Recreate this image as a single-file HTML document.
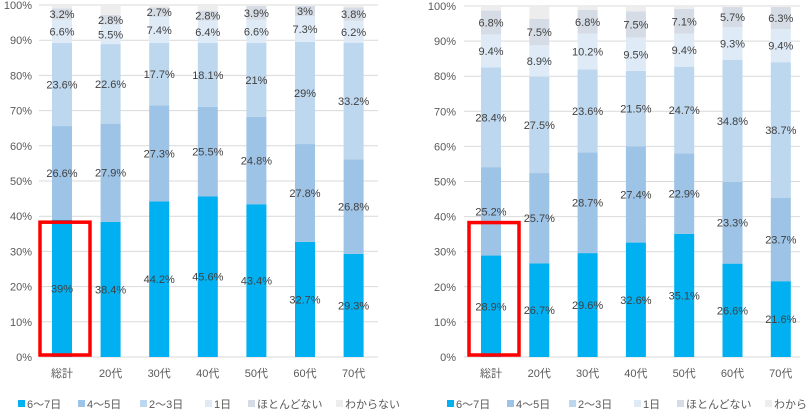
<!DOCTYPE html>
<html><head><meta charset="utf-8"><style>
body{margin:0;background:#fff;width:806px;height:411px;overflow:hidden;font-family:"Liberation Sans","Noto Sans CJK JP",sans-serif}
svg text{font-family:"Liberation Sans","Noto Sans CJK JP",sans-serif}
</style></head><body>
<svg id="c" width="806" height="411"></svg>
<script>
const categories=["総計","20代","30代","40代","50代","60代","70代"];
const seriesNames=["6〜7日","4〜5日","2〜3日","1日","ほとんどない","わからない"];
const leftS1=[39,38.4,44.2,45.6,43.4,32.7,29.3];
const leftS2=[26.6,27.9,27.3,25.5,24.8,27.8,26.8];
const leftS3=[23.6,22.6,17.7,18.1,21,29,33.2];
const leftS4=[6.6,5.5,7.4,6.4,6.6,7.3,6.2];
const leftS5=[3.2,2.8,2.7,2.8,3.9,3,3.8];
const leftS6=[1,2.8,0.7,1.6,0.3,0.2,0.7];
const rightS1=[28.9,26.7,29.6,32.6,35.1,26.6,21.6];
const rightS2=[25.2,25.7,28.7,27.4,22.9,23.3,23.7];
const rightS3=[28.4,27.5,23.6,21.5,24.7,34.8,38.7];
const rightS4=[9.4,8.9,10.2,9.5,9.4,9.3,9.4];
const rightS5=[6.8,7.5,6.8,7.5,7.1,5.7,6.3];
const rightS6=[1.3,3.7,1.1,1.5,0.8,0.3,0.3];
const yTicks=[0,10,20,30,40,50,60,70,80,90,100];
const colors=["#00b0f0","#9dc3e6","#bdd7ee","#deebf7","#d6dce5","#ededed"];
const NS="http://www.w3.org/2000/svg";
const svg=document.getElementById('c');
function mk(t,a,p){const e=document.createElementNS(NS,t);for(const k in a)e.setAttribute(k,a[k]);(p||svg).appendChild(e);return e;}
function fmt(v){return (Math.round(v*10)/10)+"%";}
function chart(id,series,x0,x1,lblX,firstC,step,y0,y100,legX){
  const g=mk('g',{});
  
  
  const y=v=>y0-(y0-y100)*v/100;
  const xc=i=>firstC+i*step;
  yTicks.forEach(t=>{
    const l=mk('line',{x1:x0,x2:x1,y1:y(t),y2:y(t),stroke:'#d9d9d9','stroke-width':1},g);
    
    
    const tx=mk('text',{x:lblX,y:y(t)+4,'text-anchor':'end','font-size':11,fill:'#595959'},g);
    
    
    tx.textContent=t+'%';
  });
  categories.forEach((c,i)=>{
    let acc=0;
    series.forEach((s,k)=>{
      const v=s[i];
      const r=mk('rect',{x:xc(i)-10,width:20,y:y(acc+v),height:y(acc)-y(acc+v),fill:colors[k]},g);
      
      
      if(k<5){
        const t=mk('text',{x:xc(i),y:y(acc+v/2)+4,'text-anchor':'middle','font-size':11,fill:'#404040'},g);
        
        
        t.textContent=fmt(v);
      }
      acc+=v;
    });
    const ct=mk('text',{x:xc(i),y:y0+20,'text-anchor':'middle','font-size':11,fill:'#595959'},g);
    
    
    ct.textContent=c;
  });
  const bx=mk('rect',{x:xc(0)-22,y:y(38.3),width:50,height:y0-2-y(38.3),fill:'none',stroke:'#ff0000','stroke-width':3.5},g);
  
  
  const lx=[0,60,122,187,230,318];
  seriesNames.forEach((n,k)=>{
    const r=mk('rect',{x:legX+lx[k],y:400,width:7,height:7,fill:colors[k]},g);
    
    
    const t=mk('text',{x:legX+lx[k]+9,y:408,'font-size':11,fill:'#595959'},g);
    
    
    t.textContent=n;
  });
}
chart('left-chart',[leftS1,leftS2,leftS3,leftS4,leftS5,leftS6],39,378,32,62,48.6,357,5,18);
chart('right-chart',[rightS1,rightS2,rightS3,rightS4,rightS5,rightS6],464,800,456,491,48.3,357,6,447);
</script>
</body></html>
